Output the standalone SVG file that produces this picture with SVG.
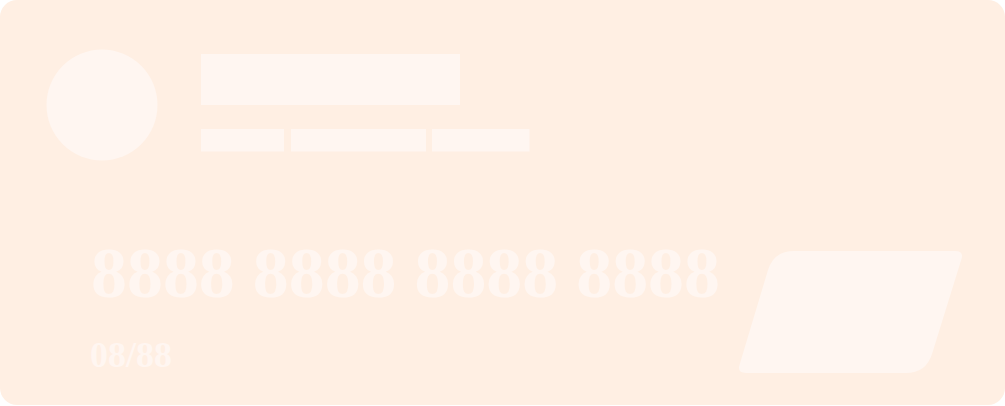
<svg xmlns="http://www.w3.org/2000/svg" width="1005" height="406" viewBox="0 0 1005 406">
<style>
.card{fill:#FFEFE3}
.ph{fill:#FFF6F1}
.num{font-family:"Liberation Serif","Times New Roman",serif;font-weight:bold;fill:#FFF6F1}
</style>
<rect fill="#FFFFFF" x="0" y="0" width="1005" height="406"/>
<g id="card">
<rect class="card" x="0" y="0" width="1005" height="405" rx="17" ry="17"/>
</g>
<g id="avatar">
<circle class="ph" cx="102" cy="105" r="55.5"/>
</g>
<g id="title">
<rect class="ph" x="201" y="54" width="259" height="51"/>
</g>
<g id="subtitle">
<rect class="ph" x="201" y="129" width="83" height="22.5"/>
<rect class="ph" x="291" y="129" width="135" height="22.5"/>
<rect class="ph" x="432" y="129" width="97.5" height="22.5"/>
</g>
<g id="number">
<text class="num" x="91" y="297" font-size="72" textLength="629" lengthAdjust="spacingAndGlyphs">8888 8888 8888 8888</text>
</g>
<g id="expiry">
<text class="num" x="90" y="367" font-size="35" textLength="82" lengthAdjust="spacingAndGlyphs">08/88</text>
</g>
<g id="chip">
<path class="ph" d="M794,251 L955,251 Q964,251 961.5,259 L932,354 Q926,373 906,373 L746,373 Q737,373 739.5,365 L768,270 Q774,251 794,251 Z"/>
</g>
<g id="connectors"></g>
</svg>
